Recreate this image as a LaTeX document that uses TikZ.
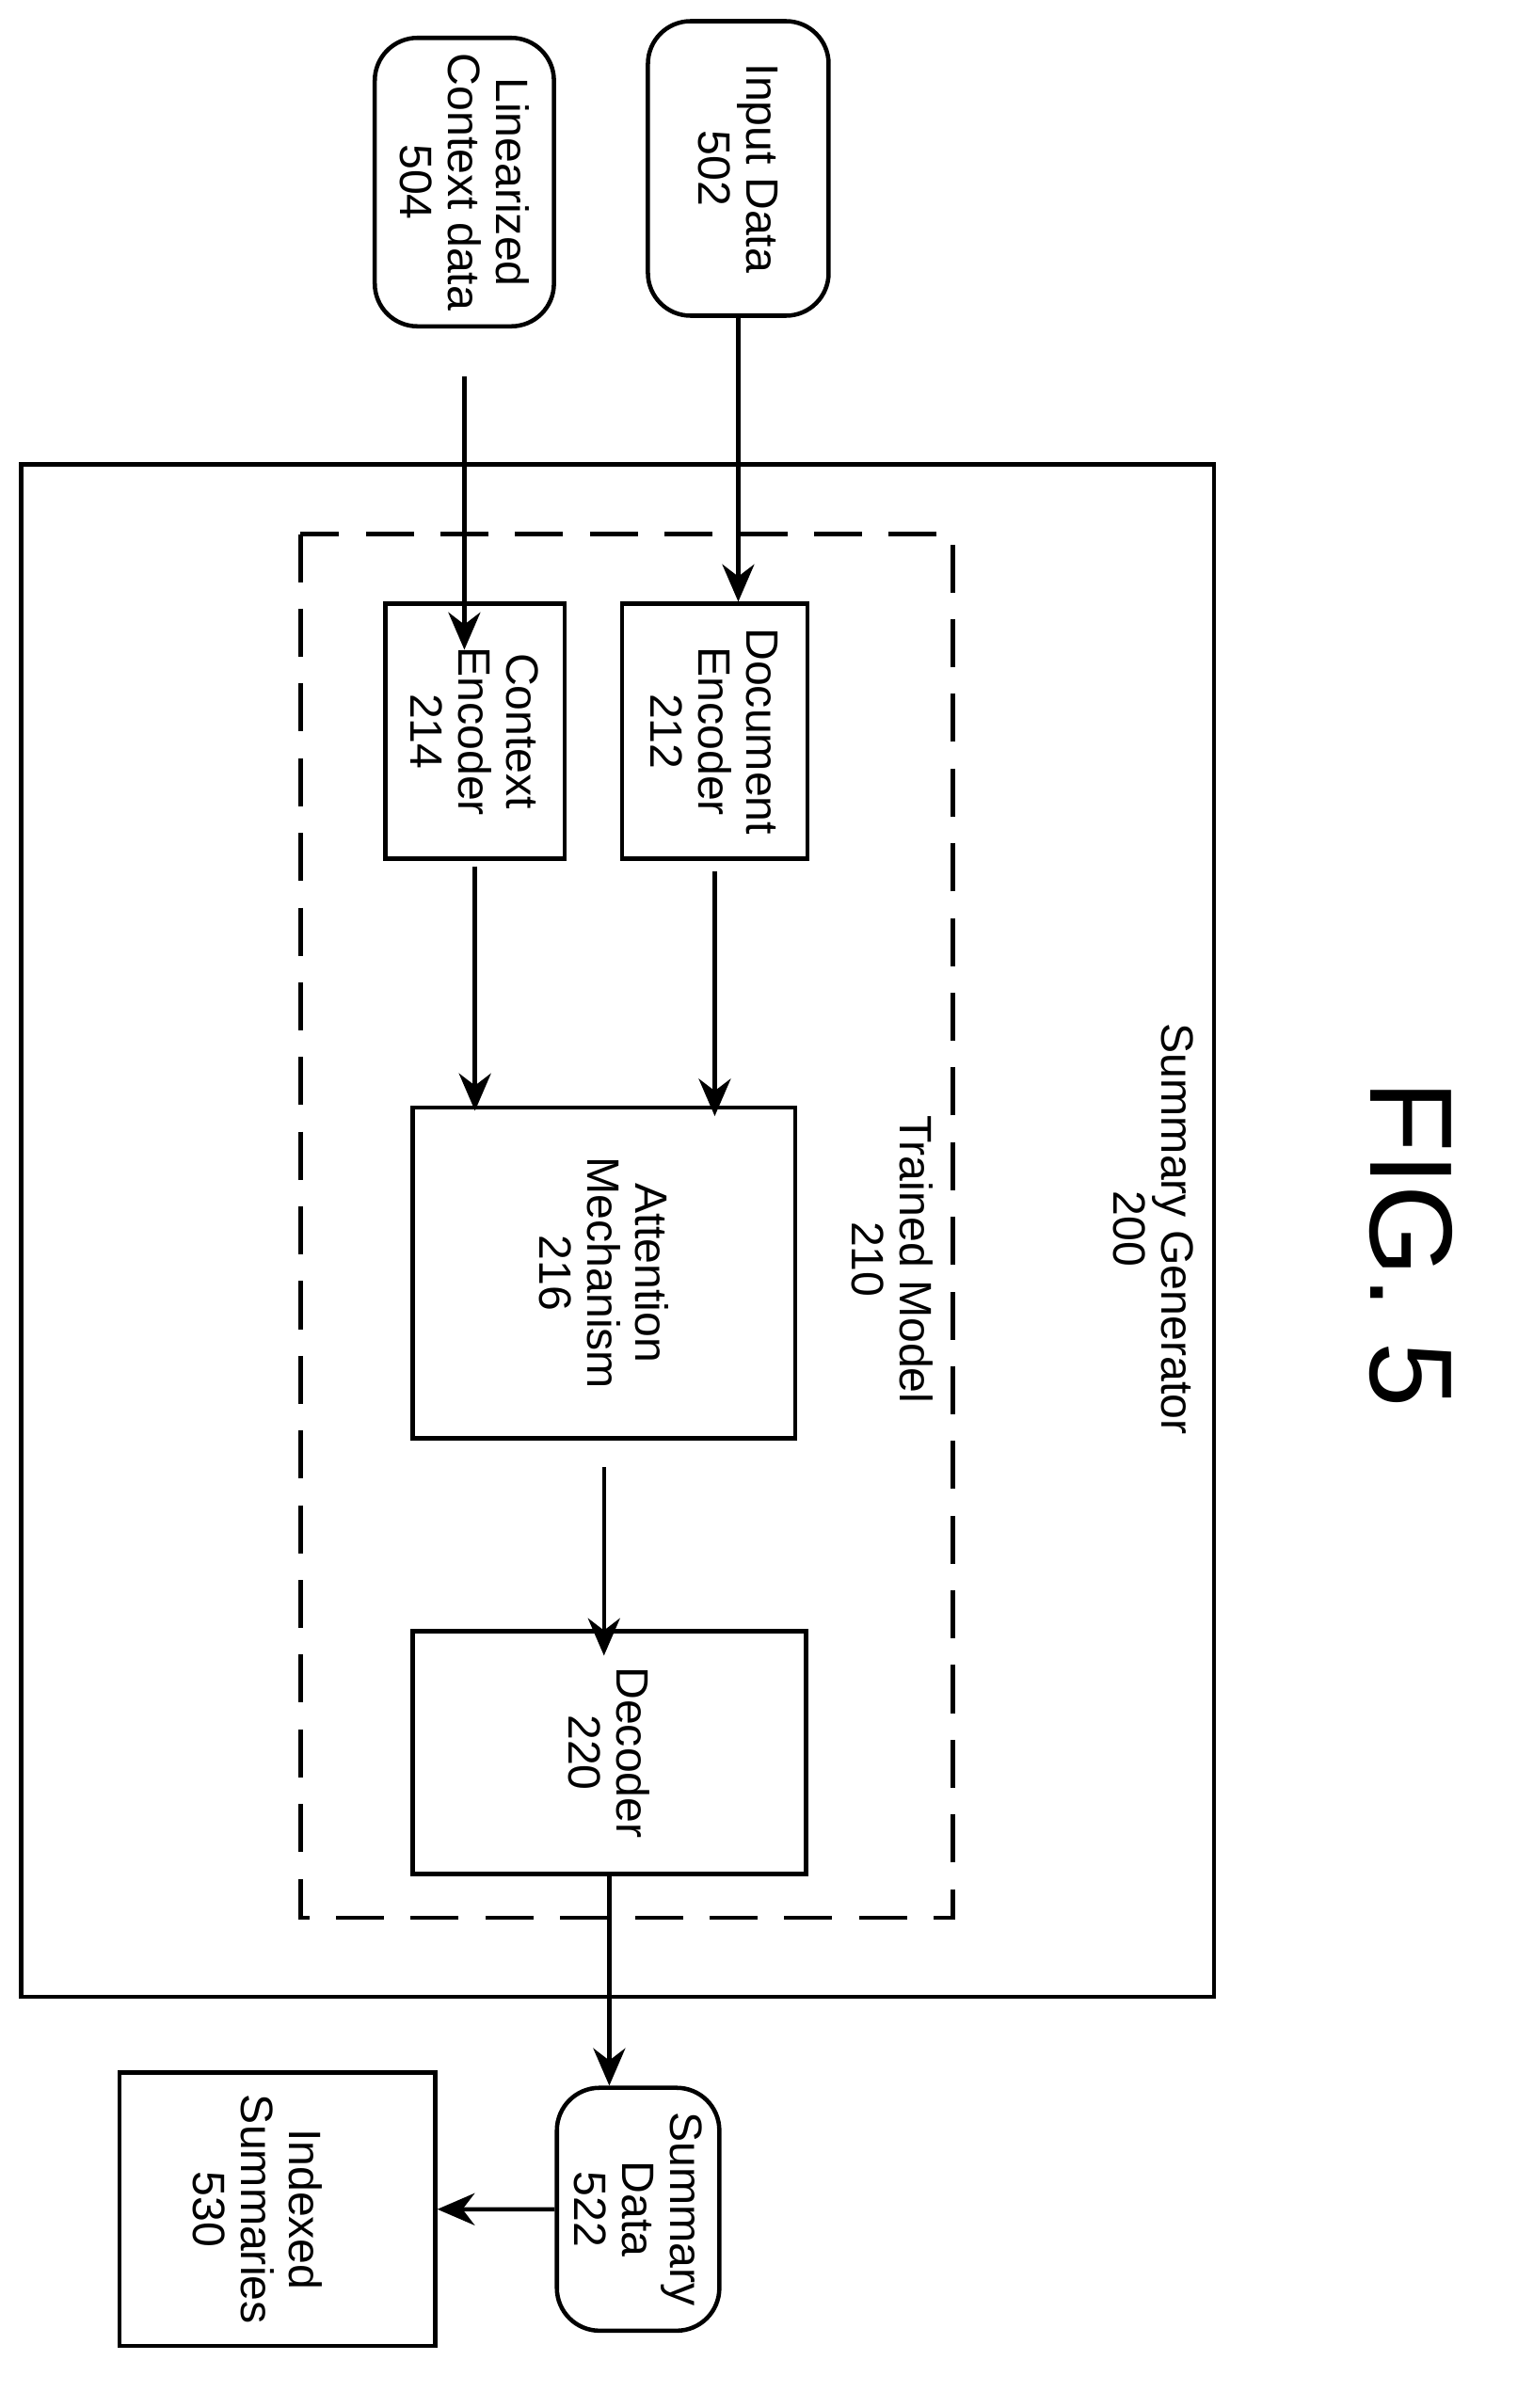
\documentclass[tikz,border=0pt]{standalone}
\usepackage{fontspec}
\setmainfont{Liberation Sans}
\usetikzlibrary{positioning,arrows.meta,shapes.geometric}
\begin{document}
\begin{tikzpicture}[
	x=0.01cm, y=-0.01cm,
	every node/.style = {font=\fontsize{8.5}{9}\selectfont, align=center},
	block/.style args = {#1 and #2}{
		rectangle, draw, thick, rotate=-90,
		minimum width=#1, minimum height=#2, inner sep=1pt
	},
	io/.style args = {#1 and #2}{
		block={#1 and #2}, rounded corners=8pt
	},
	arr/.style = {thick, -{Stealth[length=7pt, width=6pt]}}
]
	\useasboundingbox (0,0) rectangle (1000,1587);

	% outer frames
	\draw [thick] (14,306) rectangle (800,1316);
	\node (gen200) [rotate=-90] at (760,810) {Summary Generator\\200};
	\draw [thick, dashed, dash pattern=on 9pt off 5pt] (198,352) rectangle (628,1264);
	\node (mod210) [rotate=-90] at (588,830) {Trained Model\\210};

	% inputs
	\node (in502) [io={1.94cm and 1.19cm}] at (486.5,111) {Input Data\\502};
	\node (ctx504) [io={1.9cm and 1.18cm}] at (306,120) {Linearized\\Context data\\504};

	% model blocks
	\node (enc212) [block={1.68cm and 1.22cm}] at (471,482) {Document\\Encoder\\212};
	\node (enc214) [block={1.68cm and 1.18cm}] at (313,482) {Context\\Encoder\\214};
	\node (att216) [block={2.18cm and 2.52cm}] at (398,839) {Attention\\Mechanism\\216};
	\node (dec220) [block={1.6cm and 2.59cm}] at (401.5,1155) {Decoder\\220};

	% outputs
	\node (sum522) [io={1.6cm and 1.07cm}] at (420.5,1456) {Summary\\Data\\522};
	\node (idx530) [cylinder, draw, thick, aspect=0.35, minimum width=1.8cm, minimum height=2.08cm, inner sep=0pt] at (182,1456) {};
	\node (lbl530) [rotate=-90] at (170,1456) {Indexed\\Summaries\\530};

	\node (fig5) [rotate=-90, font=\fontsize{22}{24}\selectfont] at (930,820) {FIG. 5};

	% connectors
	\draw [arr] (in502.east) -- (in502.east |- enc212.west);
	\draw [arr] ([yshift=-9pt]ctx504.east) -- ([yshift=-9pt]ctx504.east |- enc214.west);
	\draw [arr] ([yshift=-2pt]enc212.east) -- ([yshift=-2pt]enc212.east |- att216.west);
	\draw [arr] ([yshift=-1pt]enc214.east) -- ([yshift=-1pt]enc214.east |- att216.west);
	\draw [arr] ([yshift=-5pt]att216.east) -- ([yshift=-5pt]att216.east |- dec220.west);
	\draw [arr] (dec220.east) -- (dec220.east |- sum522.west);
	\draw [arr] (sum522.south) -- (idx530.east);
\end{tikzpicture}
\end{document}
